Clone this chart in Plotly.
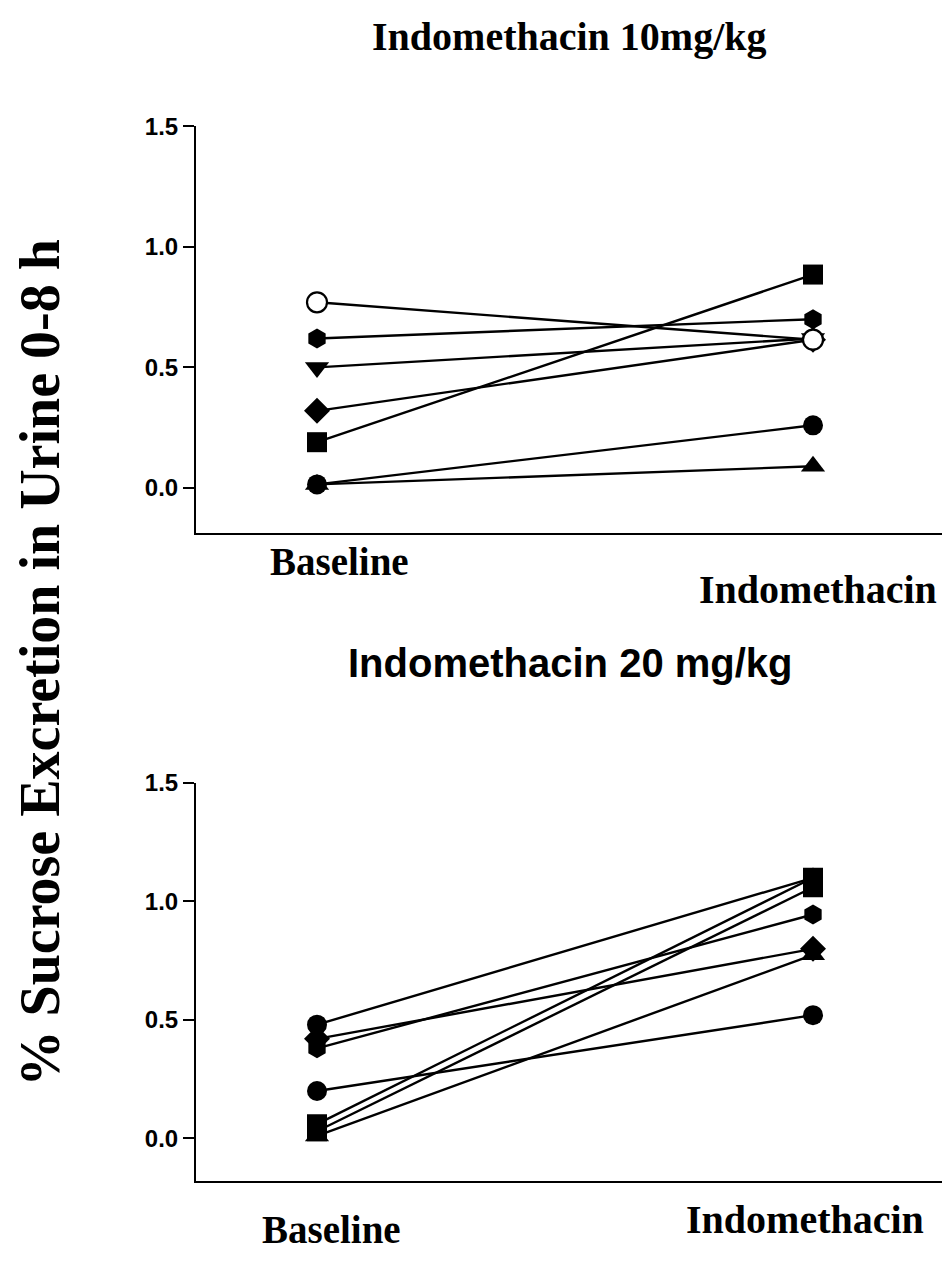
import plotly.graph_objects as go

W, H = 948, 1276

conditions = ["Baseline", "Indomethacin"]

# Panel 1: Indomethacin 10 mg/kg
p1_symbols = ["hexagon", "triangle-down", "diamond", "square", "circle", "triangle-up", "circle-open"]
p1_baseline = [0.62, 0.50, 0.32, 0.19, 0.015, 0.015, 0.77]
p1_indo = [0.70, 0.62, 0.615, 0.885, 0.26, 0.09, 0.615]

# Panel 2: Indomethacin 20 mg/kg
p2_symbols = ["circle", "diamond", "hexagon", "circle", "square", "square", "triangle-up"]
p2_baseline = [0.48, 0.42, 0.38, 0.20, 0.06, 0.03, 0.01]
p2_indo = [1.10, 0.80, 0.945, 0.52, 1.10, 1.06, 0.775]

yticks = [0.0, 0.5, 1.0, 1.5]
ytick_text = ["<b>0.0</b>", "<b>0.5</b>", "<b>1.0</b>", "<b>1.5</b>"]


def px_x(p):
    return p / W


def px_y(p):
    # empirical correction for the vertical placement observed in the render
    q = (p - 10.4) / 0.9923
    return 1 - q / H


fig = go.Figure()


def add_panel(symbols, base, indo, xa, ya):
    for s, b, i in zip(symbols, base, indo):
        open_ = s.endswith("-open")
        fig.add_trace(go.Scatter(
            x=[0, 1], y=[b, i], xaxis=xa, yaxis=ya, mode="lines+markers",
            line=dict(color="black", width=2.4),
            marker=dict(symbol=s.replace("-open", ""), size=20 if "triangle" not in s else 21,
                        color="white" if open_ else "black",
                        line=dict(color="black", width=2.2 if open_ else 0)),
            showlegend=False, hoverinfo="skip"))


add_panel(p1_symbols, p1_baseline, p1_indo, "x", "y")
add_panel(p2_symbols, p2_baseline, p2_indo, "x2", "y2")

x_range = [(196 - 317) / 496, (942 - 317) / 496]
xdom = [px_x(196), px_x(942)]

axis_common = dict(showgrid=False, zeroline=False, showline=True, linecolor="black", linewidth=2)
ytick_common = dict(tickvals=yticks, ticktext=ytick_text, ticks="outside", ticklen=11, tickwidth=2,
                    tickcolor="black", tickfont=dict(family="Liberation Sans", size=24, color="black"))

fig.update_layout(
    width=W, height=H, autosize=False,
    margin=dict(l=0, r=0, t=0, b=0),
    paper_bgcolor="white", plot_bgcolor="white",
    xaxis=dict(domain=xdom, range=x_range, showticklabels=False, ticks="", anchor="y", **axis_common),
    xaxis2=dict(domain=xdom, range=x_range, showticklabels=False, ticks="", anchor="y2", **axis_common),
    yaxis=dict(domain=[px_y(531), px_y(123)], range=[-0.186, 1.5], anchor="x",
               **ytick_common, **axis_common),
    yaxis2=dict(domain=[px_y(1181), px_y(782)], range=[-0.179, 1.5], anchor="x2",
                **ytick_common, **axis_common),
)

serif = "Liberation Serif"
sans = "Liberation Sans"

annotations = [
    dict(text="<b>Indomethacin 10mg/kg</b>", x=px_x(569), y=px_y(33), font=dict(family=serif, size=40)),
    dict(text="<b>Indomethacin 20 mg/kg</b>", x=px_x(570), y=px_y(662), font=dict(family=sans, size=40)),
    dict(text="<b>" + conditions[0] + "</b>", x=px_x(339), y=px_y(560), font=dict(family=serif, size=39)),
    dict(text="<b>" + conditions[1] + "</b>", x=px_x(818), y=px_y(588), font=dict(family=serif, size=40)),
    dict(text="<b>" + conditions[0] + "</b>", x=px_x(331), y=px_y(1230), font=dict(family=serif, size=39)),
    dict(text="<b>" + conditions[1] + "</b>", x=px_x(805), y=px_y(1220), font=dict(family=serif, size=40)),
    dict(text="<b>% Sucrose Excretion in Urine 0-8 h</b>", x=px_x(40), y=px_y(662), textangle=-90,
         font=dict(family=serif, size=56)),
]
for a in annotations:
    a.update(xref="paper", yref="paper", showarrow=False, xanchor="center", yanchor="middle")
    a["font"]["color"] = "black"
fig.update_layout(annotations=annotations)

fig.write_html("out.html")
